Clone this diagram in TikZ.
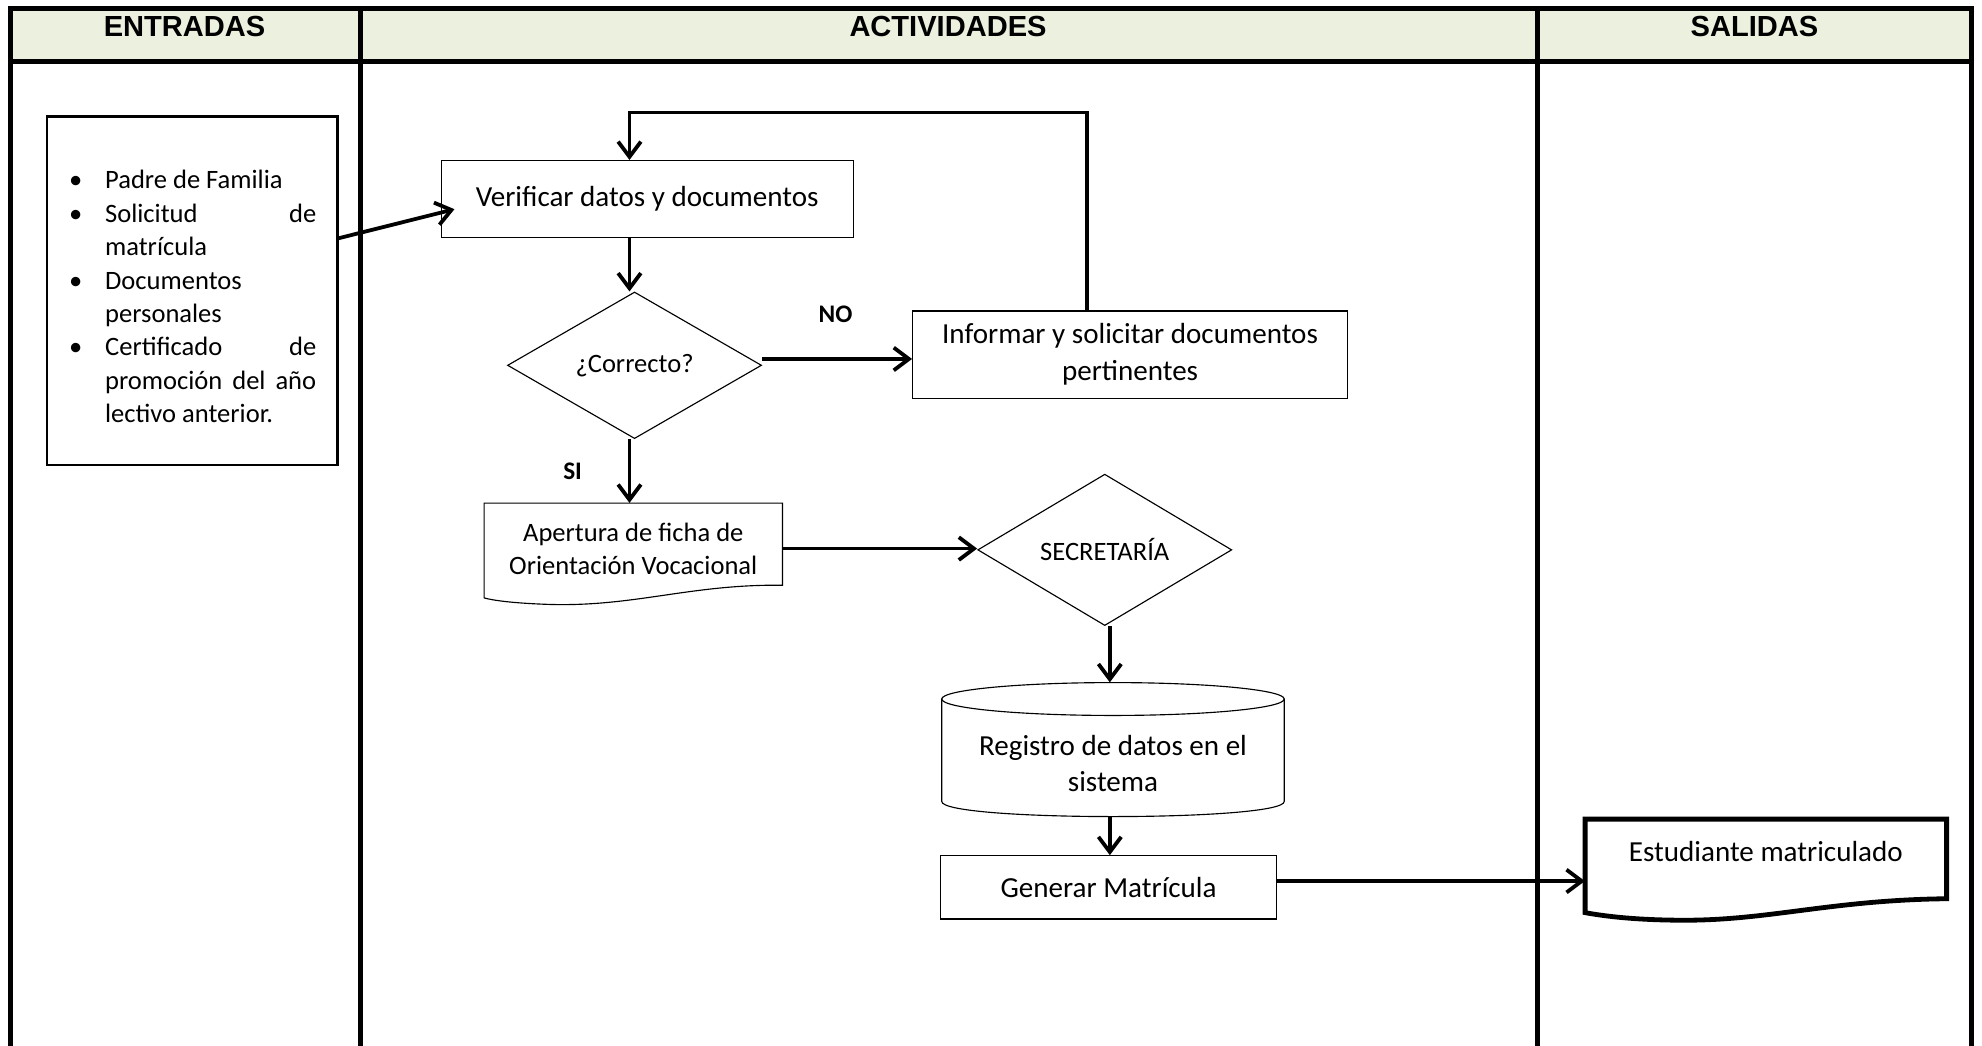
\documentclass[tikz,border=0pt]{standalone}
\usepackage{fontspec}
\setmainfont{Carlito}
\newfontfamily\headfont{Liberation Sans}
\usetikzlibrary{arrows.meta,shapes.geometric,calc}
\definecolor{headgreen}{HTML}{EBF1DE}
\begin{document}
\begin{tikzpicture}[x=1pt,y=-1pt,
  frame/.style={line width=4pt},
  hdr/.style={font=\headfont\bfseries\fontsize{23}{27}\selectfont, inner sep=0},
  box/.style={draw, line width=0.9pt, rectangle, inner sep=0, align=center, font=\fontsize{23}{29}\selectfont},
  dec/.style={draw, diamond, line width=0.9pt, inner sep=0, font=\fontsize{21}{25}\selectfont},
  flow/.style={line width=3pt, -{Straight Barb[length=12pt,width=18pt]}},
  lbl/.style={font=\bfseries\fontsize{20}{24}\selectfont, inner sep=0},
  item/.style={anchor=base west, inner sep=0, font=\fontsize{21}{26}\selectfont},
  thin/.style={line width=0.9pt},
]
\useasboundingbox (0,0) rectangle (1568,827);

% table frame with three lanes
\fill[headgreen] (8,7) rectangle (1560,49);
\draw[frame] (8,840) -- (8,7) -- (1560,7) -- (1560,840);
\draw[frame] (8,49) -- (1560,49);
\draw[frame] (285,7) -- (285,840);
\draw[frame] (1216,7) -- (1216,840);

\node[hdr] (hE) at (146,21) {ENTRADAS};
\node[hdr] (hA) at (750,21) {ACTIVIDADES};
\node[hdr] (hS) at (1388,21) {SALIDAS};

% inputs
\node[draw, line width=2pt, minimum width=230pt, minimum height=276pt, inner sep=0] (ent) at (152,230) {};
\newcommand{\bul}{\makebox[0pt][r]{\textbullet\hspace{18pt}}}
\node[item] (i1) at (83,149) {\bul Padre de Familia};
\node[item] (i2) at (83,176) {\bul\makebox[167pt][s]{Solicitud de}};
\node[item] (i3) at (83,202) {matrícula};
\node[item] (i4) at (83,229) {\bul Documentos};
\node[item] (i5) at (83,255) {personales};
\node[item] (i6) at (83,281) {\bul\makebox[167pt][s]{Certificado de}};
\node[item] (i7) at (83,308) {\makebox[167pt][s]{promoción del año}};
\node[item] (i8) at (83,334) {lectivo anterior.};

% activities
\node[box, minimum width=326pt, minimum height=61pt] (verif) at (512,157.5) {Verificar datos y documentos};
\node[dec, minimum width=201pt, minimum height=116pt] (corr) at (502,289) {¿Correcto?};
\node[box, minimum width=344pt, minimum height=69pt] (inf) at (894,280.5) {Informar y solicitar documentos\\pertinentes};

\node[inner sep=0, minimum width=236pt, minimum height=72pt, align=center, font=\fontsize{21}{26}\selectfont] (apert) at (501,434) {Apertura de ficha de\\Orientación Vocacional};
\draw[thin] (383,398) -- (619,398) -- (619,463) .. controls (545,462) and (500,481) .. (430,478) .. controls (405,477) and (390,475) .. (383,473) -- cycle;

\node[dec, minimum width=201pt, minimum height=115pt] (sec) at (874,435) {SECRETARÍA};

\node[inner sep=0, minimum width=271pt, minimum height=106pt] (reg) at (880.5,593) {};
\draw[thin] (880.5,553) ellipse [x radius=135.5, y radius=13];
\draw[thin] (745,553) -- (745,634) .. controls (745,650) and (1016,650) .. (1016,634) -- (1016,553);
\node[align=center, inner sep=0, font=\fontsize{23}{29}\selectfont] (regtxt) at (880.5,604) {Registro de datos en el\\sistema};

\node[box, minimum width=266pt, minimum height=50pt] (gen) at (877,702) {Generar Matrícula};

% output
\node[inner sep=0, minimum width=286pt, minimum height=74pt] (est) at (1397,685) {};
\draw[line width=3.8pt, line join=miter] (1254,648) -- (1540,648) -- (1540,711) .. controls (1450,712) and (1400,728) .. (1333,728) .. controls (1290,728) and (1265,724) .. (1254,722) -- cycle;
\node[inner sep=0, font=\fontsize{23}{29}\selectfont] (esttxt) at (1397,674) {Estudiante matriculado};

% connectors
\coordinate (cA) at (498,0);
\coordinate (cB) at (878,0);
\coordinate (cL) at (860,89);
\coordinate (genout) at ($(gen.east)+(0,-5)$);
\coordinate (corrout) at ($(corr.east)+(0,-5)$);
\draw[flow] (ent.east |- verif.south) -- ($(verif.west)+(11,8)$);
\draw[flow] (cA |- verif.south) -- (cA |- corr.north);
\draw[flow] (corrout) -- (corrout -| inf.west);
\draw[flow] (cA |- corr.south) -- (cA |- apert.north);
\draw[flow] (inf.north -| cL) -- (cL) -- (cL -| cA) -- (cA |- verif.north);
\draw[flow] (apert.east) -- (apert.east -| sec.west);
\draw[flow] (cB |- sec.south) -- (cB |- reg.north);
\draw[flow] (cB |- reg.south) -- (cB |- gen.north);
\draw[flow] (genout) -- (genout -| est.west);

\node[lbl] (no) at (661,249) {NO};
\node[lbl] (si) at (453,373) {SI};
\end{tikzpicture}
\end{document}
